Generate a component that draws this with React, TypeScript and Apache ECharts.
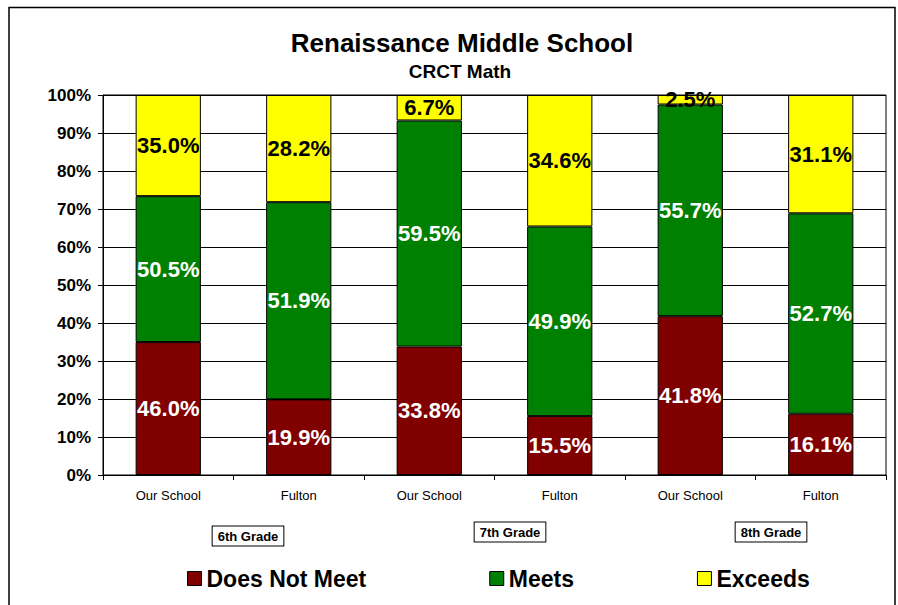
import React, { useEffect, useRef } from "react";
import * as echarts from "echarts";

const categories = ["Our School", "Fulton", "Our School", "Fulton", "Our School", "Fulton"];
const doesNotMeet = [46.0, 19.9, 33.8, 15.5, 41.8, 16.1];
const meets = [50.5, 51.9, 59.5, 49.9, 55.7, 52.7];
const exceeds = [35.0, 28.2, 6.7, 34.6, 2.5, 31.1];
const grades = ["6th Grade", "7th Grade", "8th Grade"];
const yTicks = [0, 10, 20, 30, 40, 50, 60, 70, 80, 90, 100];

const FONT = "'Liberation Sans', Arial, Helvetica, sans-serif";

export default function App() {
  const ref = useRef<HTMLDivElement>(null);
  useEffect(() => {
    if (!ref.current) return;
    const chart = echarts.init(ref.current, null, { renderer: "svg" });
    const totals = categories.map((_, i) => doesNotMeet[i] + meets[i] + exceeds[i]);
    const norm = (arr: number[]) => arr.map((v, i) => (v / totals[i]) * 100);

    const mk = (name: string, raw: number[], color: string, labelColor: string) => ({
      name,
      type: "bar",
      stack: "total",
      barWidth: "50%",
      data: norm(raw),
      itemStyle: { color, borderColor: "#000", borderWidth: 1 },
      label: {
        show: true,
        position: "inside",
        color: labelColor,
        fontFamily: FONT,
        fontWeight: "bold",
        fontSize: 22,
        formatter: (p: any) => raw[p.dataIndex].toFixed(1) + "%",
      },
    });

    const gradeCenters = [[248, 536], [510, 532], [771, 532]];

    chart.setOption({
      animation: false,
      backgroundColor: "#fff",
      title: [
        {
          text: "Renaissance Middle School",
          left: 457,
          top: 25,
          textAlign: "center",
          textStyle: { fontFamily: FONT, fontWeight: "bold", fontSize: 26, color: "#000" },
        },
        {
          text: "CRCT Math",
          left: 455,
          top: 57,
          textAlign: "center",
          textStyle: { fontFamily: FONT, fontWeight: "bold", fontSize: 19, color: "#000" },
        },
      ],
      legend: {
        left: 182,
        top: 562,
        itemWidth: 14,
        itemHeight: 14,
        itemGap: 123,
        icon: "rect",
        data: ["Does Not Meet", "Meets", "Exceeds"],
        itemStyle: { borderColor: "#000", borderWidth: 1 },
        textStyle: { fontFamily: FONT, fontWeight: "bold", fontSize: 23, color: "#000" },
      },
      grid: {
        left: 103,
        right: 12,
        top: 95,
        bottom: 130,
        show: true,
        borderColor: "#000",
        borderWidth: 1,
        backgroundColor: "transparent",
      },
      xAxis: {
        type: "category",
        data: categories,
        boundaryGap: true,
        axisLine: { lineStyle: { color: "#000", width: 1 } },
        axisTick: { show: true, length: 5, lineStyle: { color: "#000" } },
        axisLabel: { fontFamily: FONT, fontSize: 13, color: "#000", margin: 14 },
      },
      yAxis: {
        type: "value",
        min: 0,
        max: 100,
        interval: 10,
        axisLine: { show: true, lineStyle: { color: "#000", width: 1 } },
        axisTick: { show: true, length: 5, lineStyle: { color: "#000" } },
        splitLine: { show: true, lineStyle: { color: "#000", width: 1 } },
        axisLabel: {
          fontFamily: FONT,
          fontWeight: "bold",
          fontSize: 17,
          color: "#000",
          margin: 12,
          formatter: (v: number) => (yTicks.includes(v) ? v + "%" : ""),
        },
      },
      series: [
        mk("Does Not Meet", doesNotMeet, "#800000", "#fff"),
        mk("Meets", meets, "#008000", "#fff"),
        mk("Exceeds", exceeds, "#ffff00", "#000"),
      ],
      graphic: [
        {
          type: "rect",
          silent: true,
          shape: { x: 9, y: 7.5, width: 886, height: 660 },
          style: { fill: "none", stroke: "#000", lineWidth: 1.5 },
          z: 100,
        },
        ...grades.map((g, i) => ({
          type: "text",
          x: gradeCenters[i][0],
          y: gradeCenters[i][1],
          style: {
            text: g,
            fontFamily: FONT,
            fontWeight: "bold",
            fontSize: 13,
            fill: "#000",
            align: "center",
            verticalAlign: "middle",
            backgroundColor: "#fff",
            borderColor: "#000",
            borderWidth: 1,
            padding: [3, 5, 3, 5],
          },
        })),
      ],
    });
    return () => chart.dispose();
  }, []);
  return (
    <div
      ref={ref}
      style={{ position: "absolute", left: 0, top: 0, width: 898, height: 605 }}
    />
  );
}
